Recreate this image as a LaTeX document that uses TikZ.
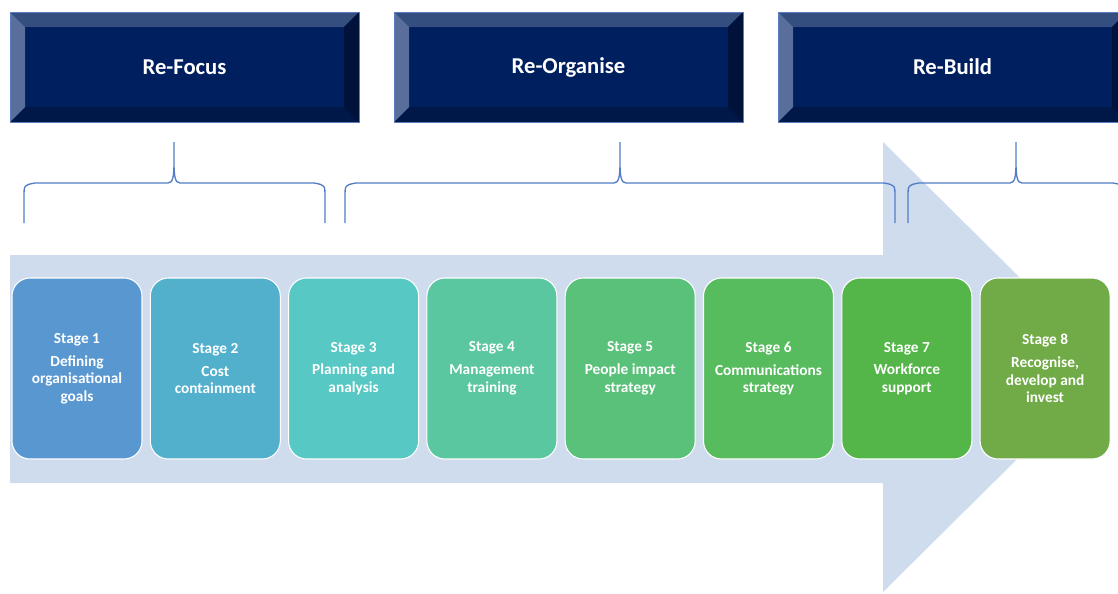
\documentclass[tikz,border=0pt]{standalone}
\usepackage{fontspec}
\setmainfont{Carlito}
\usetikzlibrary{calc}
\definecolor{navy}{RGB}{0,31,95}
\definecolor{navyT}{RGB}{52,78,128}
\definecolor{navyL}{RGB}{90,110,155}
\definecolor{navyR}{RGB}{0,18,58}
\definecolor{navyB}{RGB}{0,24,72}
\definecolor{navyEdge}{RGB}{90,125,190}
\definecolor{arrowblue}{RGB}{207,220,238}
\definecolor{braceblue}{RGB}{82,124,200}
\definecolor{stA}{RGB}{88,151,208}
\definecolor{stB}{RGB}{82,176,205}
\definecolor{stC}{RGB}{87,200,196}
\definecolor{stD}{RGB}{90,199,160}
\definecolor{stE}{RGB}{90,193,122}
\definecolor{stF}{RGB}{87,188,94}
\definecolor{stG}{RGB}{84,182,72}
\definecolor{stH}{RGB}{112,171,71}
\newcommand{\phasebrace}[3]{%
\draw[brace] (#1,223) -- (#1,197) .. controls (#1,185) .. (#1+11,183) -- (#2-6,183) .. controls (#2-1,183) and (#2,176) .. (#2,162) -- (#2,142)
  (#2,162) .. controls (#2,176) and (#2+1,183) .. (#2+6,183) -- (#3-11,183) .. controls (#3,185) .. (#3,197) -- (#3,223);}

\begin{document}
\begin{tikzpicture}[x=0.75pt,y=-0.75pt,
phase/.style={fill=navy,draw=navyEdge,line width=0.5pt,text=white,font=\bfseries\fontsize{17}{20}\selectfont,minimum width=349*0.75pt,minimum height=110*0.75pt,inner sep=0pt,
 path picture={
  \coordinate (pa) at (path picture bounding box.north west);
  \coordinate (pb) at (path picture bounding box.north east);
  \coordinate (pc) at (path picture bounding box.south east);
  \coordinate (pd) at (path picture bounding box.south west);
  \fill[navyT] (pa) -- (pb) -- ($(pb)+(-15,15)$) -- ($(pa)+(15,15)$) -- cycle;
  \fill[navyB] (pd) -- (pc) -- ($(pc)+(-15,-15)$) -- ($(pd)+(15,-15)$) -- cycle;
  \fill[navyL] (pa) -- ($(pa)+(15,15)$) -- ($(pd)+(15,-15)$) -- (pd) -- cycle;
  \fill[navyR] (pb) -- ($(pb)+(-15,15)$) -- ($(pc)+(-15,-15)$) -- (pc) -- cycle;}},
stage/.style={fill=#1,draw=white,line width=0.8pt,rounded corners=13.5pt,text=white,font=\bfseries\fontsize{11.5}{13.2}\selectfont,align=center,minimum width=130*0.75pt,minimum height=181*0.75pt,inner sep=0pt},
brace/.style={draw=braceblue,line width=1pt}]
\def\dx{138.3};
\def\xs{77};
\def\ys{368.5};

\clip (0,0) rectangle (1118,593);

\fill[arrowblue] (10,255) -- (883,255) -- (883,142) -- (1110,367) -- (883,592) -- (883,483) -- (10,483) -- cycle;

\node[phase] (focus) at (184.5,67) {Re-Focus};
\node[phase] (organise) at (568.5,67) {Re-Organise};
\node[phase] (build) at (952.5,67) {Re-Build};

\phasebrace{24}{174}{325}
\phasebrace{345}{620}{895}
\phasebrace{908}{1016}{1124}

\node[stage=stA] (s1) at (\xs,\ys) {Stage 1\\[4pt]Defining\\organisational\\goals};
\node[stage=stB] (s2) at (\xs+\dx,\ys) {Stage 2\\[4pt]Cost\\containment};
\node[stage=stC] (s3) at (\xs+2*\dx,\ys) {Stage 3\\[4pt]Planning and\\analysis};
\node[stage=stD] (s4) at (\xs+3*\dx,\ys) {Stage 4\\[4pt]Management\\training};
\node[stage=stE] (s5) at (\xs+4*\dx,\ys) {Stage 5\\[4pt]People impact\\strategy};
\node[stage=stF] (s6) at (\xs+5*\dx,\ys) {Stage 6\\[4pt]Communications\\strategy};
\node[stage=stG] (s7) at (\xs+6*\dx,\ys) {Stage 7\\[4pt]Workforce\\support};
\node[stage=stH] (s8) at (\xs+7*\dx,\ys) {Stage 8\\[4pt]Recognise,\\develop and\\invest};
\end{tikzpicture}
\end{document}
